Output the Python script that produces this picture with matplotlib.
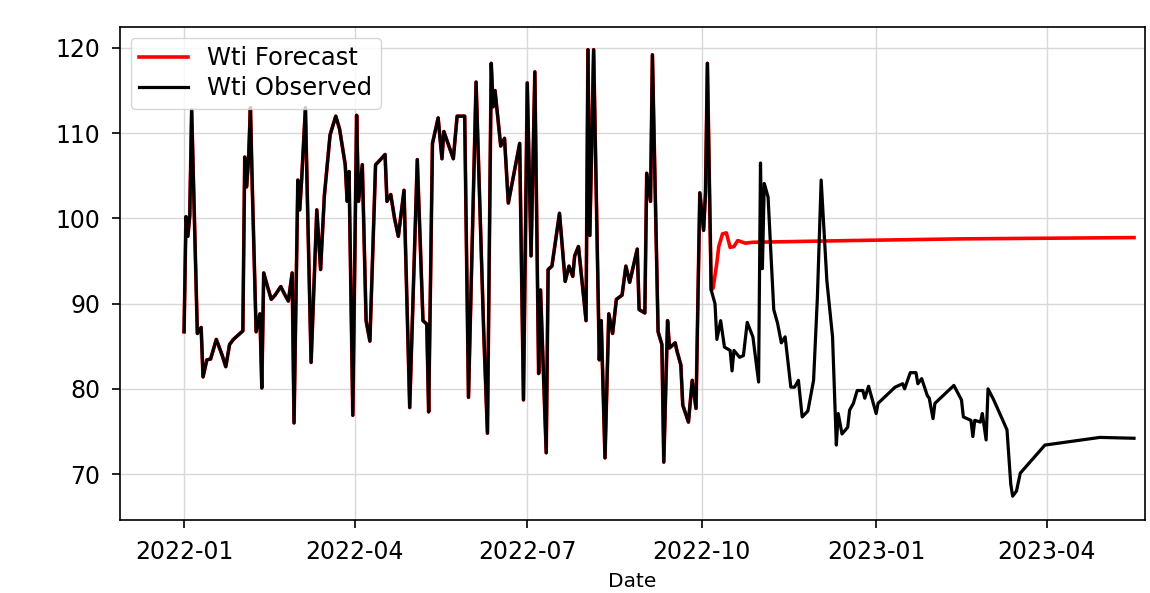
import matplotlib
matplotlib.use("Agg")
import matplotlib.pyplot as plt
import matplotlib.dates as mdates
import numpy as np
import pandas as pd

# observed WTI prices
obs_dates = [
    "2022-01-01", "2022-01-02", "2022-01-03", "2022-01-04", "2022-01-05", "2022-01-08", "2022-01-10", "2022-01-11", "2022-01-13", "2022-01-15",
    "2022-01-18", "2022-01-21", "2022-01-23", "2022-01-25", "2022-01-27", "2022-01-30", "2022-02-01", "2022-02-02", "2022-02-03", "2022-02-04",
    "2022-02-05", "2022-02-06", "2022-02-08", "2022-02-10", "2022-02-11", "2022-02-12", "2022-02-14", "2022-02-16", "2022-02-18", "2022-02-21",
    "2022-02-23", "2022-02-25", "2022-02-27", "2022-02-28", "2022-03-02", "2022-03-03", "2022-03-04", "2022-03-06", "2022-03-07", "2022-03-09",
    "2022-03-12", "2022-03-14", "2022-03-16", "2022-03-19", "2022-03-22", "2022-03-24", "2022-03-27", "2022-03-28", "2022-03-29", "2022-03-31",
    "2022-04-02", "2022-04-03", "2022-04-05", "2022-04-07", "2022-04-09", "2022-04-12", "2022-04-15", "2022-04-17", "2022-04-18", "2022-04-20",
    "2022-04-22", "2022-04-24", "2022-04-27", "2022-04-30", "2022-05-04", "2022-05-07", "2022-05-09", "2022-05-10", "2022-05-12", "2022-05-15",
    "2022-05-17", "2022-05-18", "2022-05-23", "2022-05-25", "2022-05-29", "2022-05-31", "2022-06-04", "2022-06-08", "2022-06-10", "2022-06-12",
    "2022-06-13", "2022-06-14", "2022-06-17", "2022-06-19", "2022-06-21", "2022-06-24", "2022-06-27", "2022-06-29", "2022-07-01", "2022-07-03",
    "2022-07-05", "2022-07-07", "2022-07-08", "2022-07-11", "2022-07-12", "2022-07-14", "2022-07-18", "2022-07-21", "2022-07-23", "2022-07-25",
    "2022-07-26", "2022-07-28", "2022-08-01", "2022-08-02", "2022-08-03", "2022-08-05", "2022-08-08", "2022-08-09", "2022-08-11", "2022-08-13",
    "2022-08-15", "2022-08-17", "2022-08-20", "2022-08-22", "2022-08-24", "2022-08-28", "2022-08-29", "2022-09-01", "2022-09-02", "2022-09-04",
    "2022-09-05", "2022-09-08", "2022-09-10", "2022-09-11", "2022-09-13", "2022-09-14", "2022-09-17", "2022-09-18", "2022-09-20", "2022-09-21",
    "2022-09-24", "2022-09-26", "2022-09-28", "2022-09-30", "2022-10-02", "2022-10-03", "2022-10-04", "2022-10-06",
    "2022-10-08", "2022-10-09", "2022-10-11", "2022-10-13", "2022-10-16", "2022-10-17", "2022-10-18", "2022-10-21", "2022-10-23", "2022-10-25",
    "2022-10-28", "2022-10-31", "2022-11-01", "2022-11-02", "2022-11-03", "2022-11-05", "2022-11-08", "2022-11-10", "2022-11-12", "2022-11-14",
    "2022-11-17", "2022-11-19", "2022-11-21", "2022-11-23", "2022-11-26", "2022-11-29", "2022-12-01", "2022-12-03", "2022-12-06", "2022-12-09",
    "2022-12-11", "2022-12-12", "2022-12-14", "2022-12-17", "2022-12-18", "2022-12-20", "2022-12-22", "2022-12-25", "2022-12-26", "2022-12-28",
    "2022-12-30", "2023-01-01", "2023-01-02", "2023-01-11", "2023-01-15", "2023-01-16", "2023-01-19", "2023-01-22", "2023-01-23", "2023-01-25",
    "2023-01-28", "2023-01-29", "2023-01-31", "2023-02-01", "2023-02-11", "2023-02-15", "2023-02-16", "2023-02-20", "2023-02-21", "2023-02-22",
    "2023-02-25", "2023-02-26", "2023-02-28", "2023-03-01", "2023-03-04", "2023-03-11", "2023-03-13", "2023-03-14", "2023-03-16", "2023-03-18",
    "2023-03-31", "2023-04-29", "2023-05-17",
]
obs_values = [
    86.7, 100.2, 97.9, 100.3, 112.7, 86.5, 87.2, 81.4, 83.4, 83.5,
    85.8, 84.0, 82.6, 85.2, 85.8, 86.4, 86.8, 107.2, 103.7, 107.0,
    113.0, 103.5, 86.7, 88.8, 80.1, 93.6, 92.0, 90.5, 91.0, 92.0,
    91.1, 90.3, 93.6, 76.0, 104.5, 101.0, 104.5, 113.0, 102.7, 83.1,
    101.0, 94.0, 102.7, 109.8, 112.0, 110.5, 106.3, 102.0, 105.5, 76.9,
    112.1, 102.0, 106.3, 88.0, 85.6, 106.3, 107.0, 107.5, 102.0, 102.8,
    100.0, 97.9, 103.3, 77.8, 106.9, 88.0, 87.6, 77.3, 108.8, 111.8,
    107.0, 110.2, 107.0, 112.0, 112.0, 79.0, 116.0, 86.9, 74.8, 118.2,
    113.1, 115.0, 108.5, 109.4, 101.8, 105.3, 108.8, 78.7, 115.9, 95.6,
    117.2, 81.8, 91.6, 72.5, 94.0, 94.4, 100.6, 92.6, 94.4, 93.2,
    95.6, 96.7, 88.0, 119.8, 98.0, 119.8, 83.4, 88.0, 71.9, 88.8,
    86.5, 90.5, 91.0, 94.4, 92.5, 96.4, 89.3, 88.9, 105.3, 102.0,
    119.2, 86.7, 85.2, 71.4, 88.0, 84.8, 85.4, 84.4, 82.8, 78.1,
    76.1, 81.0, 77.7, 103.0, 98.6, 103.0, 118.2, 91.6,
    90.0, 85.8, 88.0, 84.9, 84.5, 82.1, 84.5, 83.7, 83.9, 87.8,
    86.1, 80.8, 106.5, 94.1, 104.1, 102.5, 89.3, 87.7, 85.4, 86.1,
    80.2, 80.2, 81.0, 76.7, 77.4, 81.0, 90.7, 104.5, 92.7, 86.1,
    73.4, 77.1, 74.7, 75.5, 77.5, 78.3, 79.8, 79.8, 78.9, 80.3,
    78.7, 77.1, 78.3, 80.2, 80.6, 80.0, 81.9, 81.9, 80.6, 81.2,
    79.2, 78.9, 76.5, 78.3, 80.4, 78.7, 76.7, 76.3, 74.4, 76.3,
    76.1, 77.1, 74.0, 80.0, 78.7, 75.2, 68.8, 67.4, 68.0, 70.1,
    73.4, 74.3, 74.2,
]

# model fit follows the observed series up to the end of training
train_end = "2022-10-06"

# out-of-sample forecast
fc_dates = ["2022-10-07", "2022-10-09", "2022-10-10", "2022-10-12", "2022-10-14", "2022-10-16",
            "2022-10-18", "2022-10-20", "2022-10-24", "2022-10-28", "2022-12-18", "2023-02-15", "2023-05-17"]
fc_values = [91.8, 94.8, 96.7, 98.2, 98.3, 96.6, 96.7, 97.4, 97.1, 97.2, 97.4, 97.6, 97.75]

y_ticks = [70, 80, 90, 100, 110, 120]

observed = pd.Series(obs_values, index=pd.to_datetime(obs_dates))
fitted = observed[:train_end]
forecast = pd.concat([fitted, pd.Series(fc_values, index=pd.to_datetime(fc_dates))])

fig = plt.figure(figsize=(11.5, 5.93), dpi=100)
ax = fig.add_axes([0.104, 0.123, 0.892, 0.832])

ax.plot(forecast.index, forecast.values, color="red", lw=2.6, label="Wti Forecast")
ax.plot(observed.index, observed.values, color="black", lw=2.3, label="Wti Observed")

ax.set_xlim(pd.Timestamp("2021-11-28"), pd.Timestamp("2023-05-23"))
ax.set_ylim(64.6, 122.5)
ax.set_yticks(y_ticks)
ax.xaxis.set_major_locator(mdates.MonthLocator(bymonth=[1, 4, 7, 10]))
ax.xaxis.set_major_formatter(mdates.DateFormatter("%Y-%m"))
ax.tick_params(labelsize=17, length=6, width=1.2, pad=8)
ax.grid(True, color="#d8d8d8", lw=1.0)
for s in ax.spines.values():
    s.set_linewidth(1.2)

ax.set_xlabel("Date", fontsize=14.5, labelpad=6)
ax.legend(loc="upper left", fontsize=17.5, handlelength=2.0, borderaxespad=0.45,
          labelspacing=0.25, handletextpad=0.8, borderpad=0.35)

fig.savefig("out.png", dpi=100)
